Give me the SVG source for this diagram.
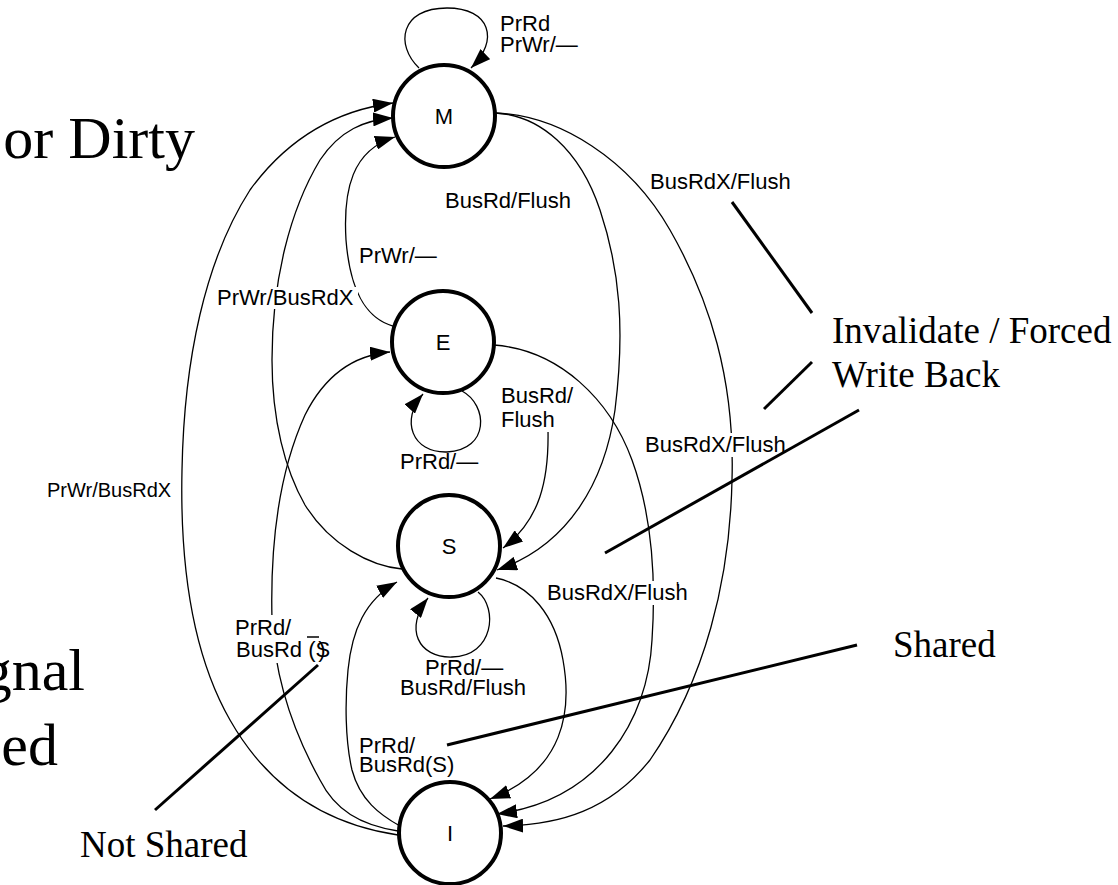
<svg xmlns="http://www.w3.org/2000/svg" width="1118" height="885" viewBox="0 0 1118 885">
  <defs>
    <marker id="arrow" markerUnits="userSpaceOnUse" markerWidth="20" markerHeight="14" refX="20" refY="7" orient="auto">
      <path d="M0,0 L20,7 L0,14 z" fill="#000"/>
    </marker>
  </defs>
  <style>
    .node circle { fill: #fff; stroke: #000; stroke-width: 4; }
    .node text { font-family: "Liberation Sans", Arial, sans-serif; font-size: 22px; text-anchor: middle; fill: #000; }
    .edge { fill: none; stroke: #000; stroke-width: 1.3; }
    .arr { marker-end: url(#arrow); }
    .lbl { font-family: "Liberation Sans", Arial, sans-serif; font-size: 22px; fill: #000; }
    .bg { fill: #fff; }
    .big { font-family: "Liberation Serif", "Times New Roman", serif; fill: #000; }
    .callout { stroke: #000; stroke-width: 3; fill: none; }
  </style>

  <rect width="1118" height="885" fill="#fff"/>

  <!-- slide text partly cut off at the left edge -->
  <g id="slide-text" class="big">
    <text x="195" y="158" font-size="60" text-anchor="end">or Dirty</text>
    <text x="85" y="690" font-size="60" text-anchor="end">gnal</text>
    <text x="58" y="765" font-size="60" text-anchor="end">ed</text>
  </g>

  <!-- transitions -->
  <g id="connectors">
    <!-- M self loop -->
    <path class="edge arr" d="M419,68 C395,45 400,8 447,8 C490,8 500,40 471,68"/>
    <!-- I -> M -->
    <path class="edge arr" d="M398,835 C330,825 270,790 230,720 C190,650 180,560 182,470 C184,360 205,260 250,190 C290,135 340,110 393,103"/>
    <!-- S -> M -->
    <path class="edge arr" d="M402,569 C370,566 330,545 305,505 C285,470 272,420 272,360 C272,280 290,210 320,160 C340,130 365,120 393,118"/>
    <!-- E -> M -->
    <path class="edge arr" d="M393,326 C365,318 350,290 346,240 C343,190 352,150 395,137"/>
    <!-- I -> E -->
    <path class="edge arr" d="M398,831 C360,825 335,810 320,780 C295,735 275,680 272,620 C270,540 280,470 305,415 C325,375 355,355 390,352"/>
    <!-- I -> S -->
    <path class="edge arr" d="M400,826 C380,815 360,800 352,770 C345,740 345,700 348,670 C352,630 365,600 397,582"/>
    <!-- S self loop -->
    <path class="edge arr" d="M478,592 C498,608 494,656 452,657 C418,658 404,628 428,598"/>
    <!-- E self loop -->
    <path class="edge arr" d="M462,391 C488,405 490,450 447,452 C412,453 400,420 423,394"/>
    <!-- M -> S -->
    <path class="edge arr" d="M495,113 C540,115 580,150 600,210 C620,270 625,330 615,410 C605,480 570,545 497,570"/>
    <!-- M -> I -->
    <path class="edge arr" d="M495,113 C560,115 630,160 670,230 C710,300 735,380 732,480 C730,580 705,680 650,760 C610,810 560,825 503,826"/>
    <!-- E -> I -->
    <path class="edge arr" d="M494,345 C560,350 610,400 632,460 C652,515 656,580 652,640 C648,720 600,800 497,814"/>
    <!-- S -> I -->
    <path class="edge arr" d="M496,578 C530,585 555,615 563,660 C572,710 565,770 490,799"/>
    <!-- E -> S -->
    <path class="edge arr" d="M548,430 C549,480 540,520 503,548"/>
  </g>

  <!-- transition labels -->
  <g id="labels" class="lbl">
    <text x="500" y="31">PrRd</text>
    <text x="500" y="52">PrWr/—</text>
    <text x="445" y="208">BusRd/Flush</text>
    <text x="650" y="189">BusRdX/Flush</text>
    <text x="359" y="263">PrWr/—</text>
    <rect class="bg" x="216" y="287" width="142" height="22"/>
    <text x="217" y="305">PrWr/BusRdX</text>
    <text x="47" y="497" font-size="20">PrWr/BusRdX</text>
    <rect class="bg" x="499" y="385" width="76" height="47"/>
    <text x="501" y="403">BusRd/</text>
    <text x="501" y="427">Flush</text>
    <text x="400" y="469">PrRd/—</text>
    <rect class="bg" x="643" y="433" width="142" height="24"/>
    <text x="645" y="452">BusRdX/Flush</text>
    <rect class="bg" x="545" y="581" width="146" height="24"/>
    <text x="547" y="600">BusRdX/Flush</text>
    <text x="676" y="594" font-size="16">'</text>
    <rect class="bg" x="233" y="615" width="102" height="48"/>
    <text x="235" y="635">PrRd/</text>
    <text x="236" y="657">BusRd (S<tspan dx="-12">)</tspan></text>
    <line x1="307" y1="637" x2="319" y2="637" stroke="#000" stroke-width="1.5"/>
    <text x="425" y="675">PrRd/—</text>
    <text x="400" y="695">BusRd/Flush</text>
    <text x="359" y="753">PrRd/</text>
    <text x="359" y="772">BusRd(S)</text>
  </g>

  <!-- states -->
  <g id="node-M" class="node">
    <circle cx="444" cy="116" r="51"/>
    <text x="444" y="124">M</text>
  </g>
  <g id="node-E" class="node">
    <circle cx="443" cy="342" r="51"/>
    <text x="443" y="350">E</text>
  </g>
  <g id="node-S" class="node">
    <circle cx="449" cy="546" r="51"/>
    <text x="449" y="554">S</text>
  </g>
  <g id="node-I" class="node">
    <circle cx="450" cy="833" r="51"/>
    <text x="450" y="841">I</text>
  </g>

  <!-- callouts -->
  <g id="annotations">
    <line class="callout" x1="732" y1="202" x2="812" y2="313"/>
    <line class="callout" x1="764" y1="409" x2="812" y2="362"/>
    <line class="callout" x1="859" y1="410" x2="605" y2="553"/>
    <line class="callout" x1="857" y1="645" x2="447" y2="745"/>
    <line class="callout" x1="318" y1="665" x2="155" y2="810"/>
    <text class="big" x="832" y="343" font-size="37">Invalidate / Forced</text>
    <text class="big" x="832" y="387" font-size="37">Write Back</text>
    <text class="big" x="893" y="657" font-size="37">Shared</text>
    <text class="big" x="80" y="857" font-size="37">Not Shared</text>
  </g>
</svg>
